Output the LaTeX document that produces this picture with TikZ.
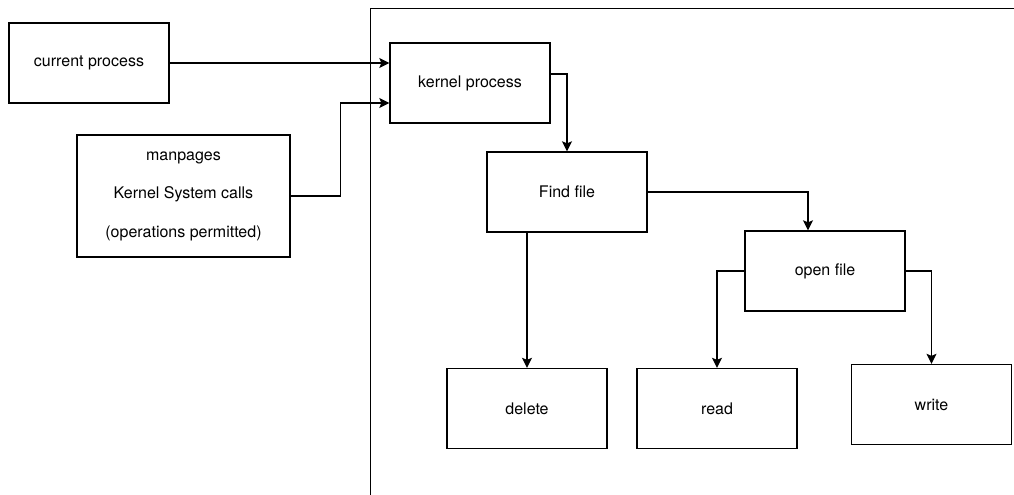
\documentclass[tikz,border=0pt]{standalone}
\usepackage{fontspec}
\setmainfont{TeX Gyre Heros}
\usetikzlibrary{arrows.meta}
\begin{document}
\begin{tikzpicture}[x=0.75pt,y=-0.75pt,
  box/.style={draw, line width=1pt, minimum width=120pt, minimum height=60pt,
    inner sep=0pt, align=center, font=\fontsize{12pt}{14pt}\selectfont},
  arr/.style={line width=1pt, -{Stealth[length=7.5pt,width=7.5pt,inset=1.5pt]}}]
\useasboundingbox (0,0) rectangle (1014,495);
% kernel frame, open to the right and below
\draw[line width=1pt] (370.5,495) -- (370.5,8.5) -- (1014,8.5);
\node[box] (cur) at (89,63) {current process};
\node[box, minimum width=159.75pt, minimum height=91.5pt,
  font=\fontsize{12pt}{28.9pt}\selectfont] (man) at (183.5,196)
  {manpages\\Kernel System calls\\(operations permitted)};
\node[box] (kern) at (470,83) {kernel process};
\node[box] (find) at (567,192) {Find file};
\node[box] (open) at (825,271) {open file};
\node[box] (del) at (527,408.5) {delete};
\node[box] (read) at (717,408.5) {read};
\node[box] (write) at (931.5,404.5) {write};
% connectors
\draw[arr] (cur.east) -- (cur.east -| kern.west);
\draw[arr] (man.east) -- ++(50,0) |- ([yshift=-15pt]kern.west);
\draw[arr] ([yshift=6.75pt]kern.east) -| (find.north);
\draw[arr] (find.east) -| ([xshift=-12.75pt]open.north);
\draw[arr] (find.south -| del.north) -- (del.north);
\draw[arr] (open.west) -| (read.north);
\draw[arr] (open.east) -| (write.north);
\end{tikzpicture}
\end{document}
